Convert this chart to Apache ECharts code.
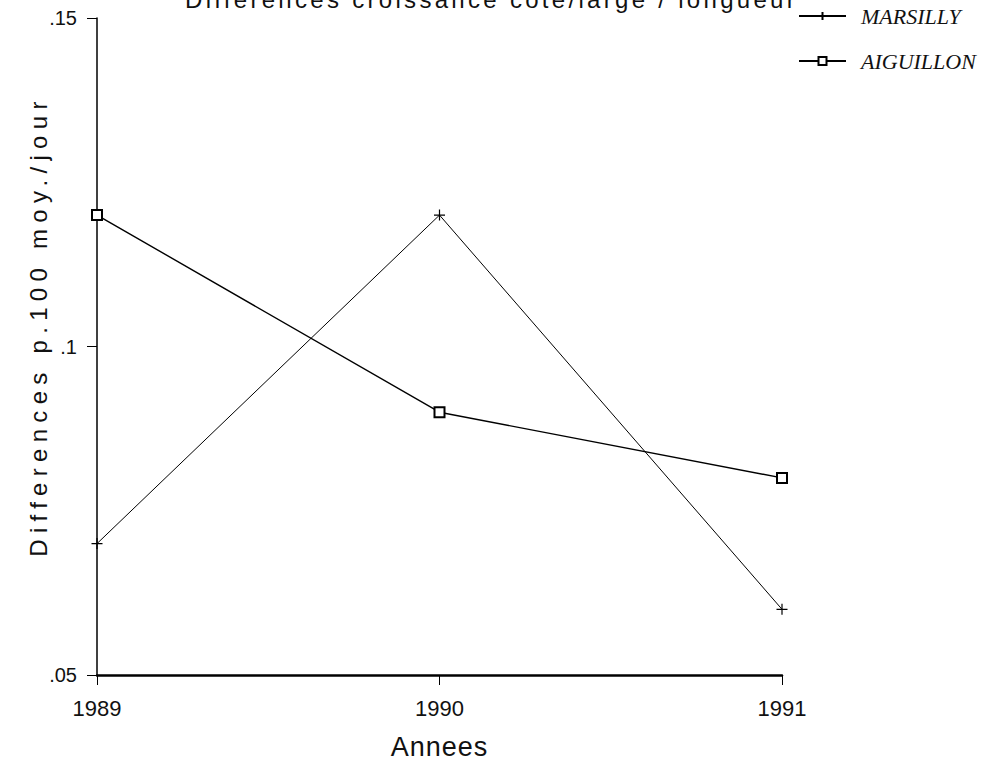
<!DOCTYPE html>
<html><head><meta charset="utf-8">
<script src="https://cdn.jsdelivr.net/npm/echarts@6/dist/echarts.min.js"></script>
<style>html,body{margin:0;padding:0;background:#fff}#c{width:987px;height:768px}</style>
</head><body><div id="c"></div>
<script>
const years = ['1989', '1990', '1991'];
const marsilly = [0.07, 0.12, 0.06];
const aiguillon = [0.12, 0.09, 0.08];
const yTicks = {min: 0.05, max: 0.15, interval: 0.05};
const titleText = 'Differences croissance cote/large / longueur';
const yName = 'Differences p.100 moy./jour';
const xName = 'Annees';

const chart = echarts.init(document.getElementById('c'), null, {renderer: 'svg'});
const plus = 'path://M0,5L10,5M5,0L5,10';
chart.setOption({
  animation: false,
  backgroundColor: '#fff',
  grid: {left: 97, right: 205, top: 18, bottom: 93},
  graphic: [
    {type: 'text', x: 185, y: 11, style: {text: titleText, font: '24px "Liberation Sans"', fill: '#111', align: 'left', verticalAlign: 'bottom'}},
    {type: 'text', x: 38, y: 326, rotation: Math.PI / 2, style: {text: yName, font: '24px "Liberation Sans"', fill: '#111', align: 'center', verticalAlign: 'middle'}}
  ],
  legend: {
    orient: 'vertical', left: 793, top: 0, itemGap: 23, itemWidth: 47, itemHeight: 10,
    textStyle: {fontFamily: '"Liberation Serif"', fontStyle: 'italic', fontSize: 22, color: '#111', padding: [0, 0, 0, 10]},
    data: ['MARSILLY', 'AIGUILLON']
  },
  xAxis: {
    type: 'category', data: years, boundaryGap: false,
    name: xName, nameLocation: 'middle', nameGap: 58,
    nameTextStyle: {fontFamily: '"Liberation Sans"', fontSize: 27, color: '#111'},
    axisLine: {lineStyle: {color: '#000', width: 2.5}},
    axisTick: {show: true, length: 10, lineStyle: {color: '#000'}},
    axisLabel: {fontFamily: '"Liberation Sans"', fontSize: 22, color: '#111', margin: 22}
  },
  yAxis: {
    type: 'value', min: yTicks.min, max: yTicks.max, interval: yTicks.interval,
    splitLine: {show: false},
    axisLine: {show: true, lineStyle: {color: '#000', width: 1.5}},
    axisTick: {show: true, length: 10, lineStyle: {color: '#000'}},
    axisLabel: {fontFamily: '"Liberation Sans"', fontSize: 20, color: '#111', margin: 20,
      formatter: v => String(+v.toFixed(2)).replace(/^0/, '')}
  },
  series: [
    {name: 'MARSILLY', type: 'line', data: marsilly, symbol: plus, symbolSize: 11,
     lineStyle: {color: '#000', width: 1}, itemStyle: {color: '#000', borderColor: '#000', borderWidth: 1.2}},
    {name: 'AIGUILLON', type: 'line', data: aiguillon, symbol: 'emptyRect', symbolSize: 10,
     lineStyle: {color: '#000', width: 1.4}, itemStyle: {color: '#000', borderColor: '#000', borderWidth: 1.3}}
  ]
});
function spacing() {
  document.querySelectorAll('#c text').forEach(t => {
    const s = t.textContent;
    if (s === yName) t.setAttribute('letter-spacing', '6.3');
    else if (s === titleText) t.setAttribute('letter-spacing', '3.3');
    else if (s === xName) t.setAttribute('letter-spacing', '1');
  });
}
spacing();
chart.on('finished', spacing);
setTimeout(spacing, 0);
</script></body></html>
